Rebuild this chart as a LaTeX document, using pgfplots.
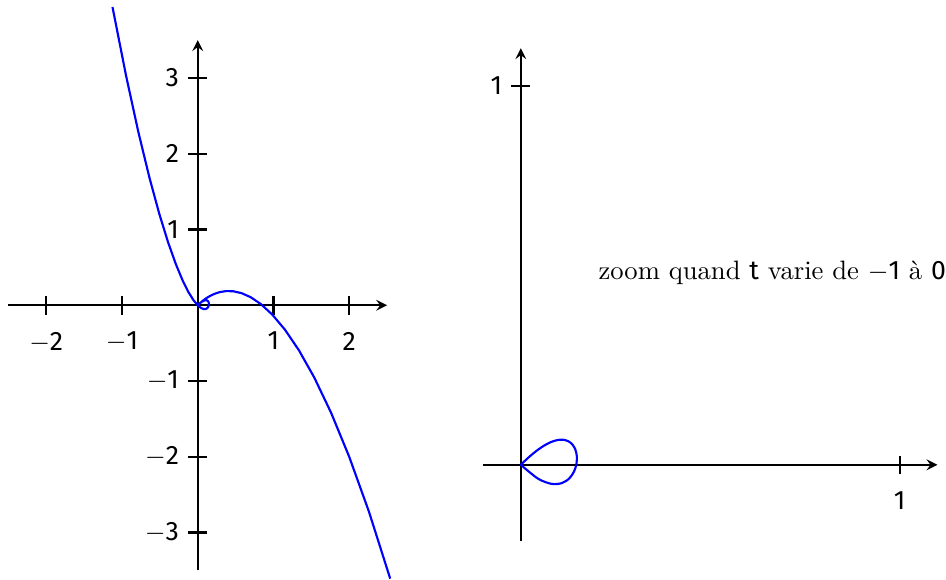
\documentclass[border=0pt]{standalone}
\usepackage{fontspec}
\setsansfont{Fira Sans}
\usepackage{pgfplots}
\pgfplotsset{compat=1.18}

\newcommand{\mn}{$-$}
\pgfplotsset{
  repere/.style={
    axis lines=middle,
    axis line style={thick,-stealth},
    tick style={thick,black},
    tick align=center,
    major tick length=7pt,
    ticklabel style={font=\sffamily},
    xticklabel style={yshift=-3pt},
    clip=false,
    anchor=origin,
  }
}

\begin{document}
\begin{tikzpicture}
% courbe complete, t de -1.5 a 1.1
\begin{axis}[repere,
  x=1cm, y=1cm,
  xmin=-2.5, xmax=2.5, ymin=-3.5, ymax=3.5,
  xtick={-2,-1,1,2}, xticklabels={\mn2,\mn1,1,2},
  ytick={-3,-2,-1,1,2,3}, yticklabels={\mn3,\mn2,\mn1,1,2,3},
  at={(0,0)},
]
\addplot[blue, thick] coordinates {
  (-1.125,3.9375) (-0.946125,3.03233) (-0.784,2.28928) (-0.637875,1.68718)
  (-0.507,1.20666) (-0.390625,0.830078) (-0.288,0.54144) (-0.198375,0.326327)
  (-0.121,0.17182) (-0.055125,0.066426) (0,0) (0.045125,-0.036326)
  (0.081,-0.05022) (0.108375,-0.048227) (0.128,-0.03584) (0.140625,-0.017578)
  (0.147,0.00294) (0.147875,0.02292) (0.144,0.04032) (0.136125,0.053769)
  (0.125,0.0625) (0.111375,0.066268) (0.096,0.06528) (0.079625,0.060117)
  (0.063,0.05166) (0.046875,0.041016) (0.032,0.02944) (0.019125,0.018264)
  (0.009,0.00882) (0.002375,0.002363) (0,0) (0.002625,0.002612)
  (0.011,0.01078) (0.025875,0.024711) (0.048,0.04416) (0.078125,0.068359)
  (0.117,0.09594) (0.165375,0.124858) (0.224,0.15232) (0.293625,0.174707)
  (0.375,0.1875) (0.468875,0.185206) (0.576,0.16128) (0.697125,0.108054)
  (0.833,0.01666) (0.984375,-0.123047) (1.152,-0.32256) (1.336625,-0.594798)
  (1.539,-0.95418) (1.759875,-1.4167) (2,-2) (2.260125,-2.72345)
  (2.541,-3.60822)
};
\path (axis cs:-2.61,4.03);
\end{axis}
% zoom, t de -1 a 0
\begin{axis}[repere,
  x=5cm, y=5cm,
  xmin=-0.1, xmax=1.1, ymin=-0.2, ymax=1.1,
  xtick={1}, ytick={1}, xticklabels={1}, yticklabels={1},
  at={(4.265cm,-2.106cm)},
]
\addplot[blue, thick, smooth] coordinates {
  (0,0) (0.045125,-0.036326) (0.081,-0.05022) (0.108375,-0.048227)
  (0.128,-0.03584) (0.140625,-0.017578) (0.147,0.00294) (0.147875,0.02292)
  (0.144,0.04032) (0.136125,0.053769) (0.125,0.0625) (0.111375,0.066268)
  (0.096,0.06528) (0.079625,0.060117) (0.063,0.05166) (0.046875,0.041016)
  (0.032,0.02944) (0.019125,0.018264) (0.009,0.00882) (0.002375,0.002363)
  (0,0)
};
\node[anchor=west, inner sep=0pt] at (axis cs:0.204,0.507)
  {zoom quand {\sffamily t} varie de \mn{\sffamily 1} à {\sffamily 0}};
\end{axis}
\end{tikzpicture}
\end{document}
